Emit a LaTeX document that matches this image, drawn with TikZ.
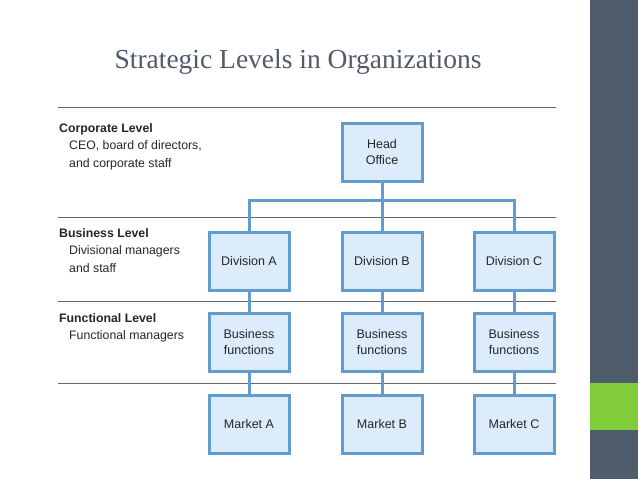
\documentclass[tikz,border=0pt]{standalone}
\usepackage{fontspec}
\setmainfont{Liberation Sans}
\newfontfamily\titlefont{Liberation Serif}
\definecolor{boxfill}{RGB}{221,236,250}
\definecolor{boxedge}{RGB}{96,156,206}
\definecolor{slate}{RGB}{79,92,108}
\definecolor{lime}{RGB}{128,204,58}
\definecolor{titlegray}{RGB}{80,90,105}
\tikzset{
  orgbox/.style={draw=boxedge, line width=3pt, fill=boxfill, minimum width=80pt, minimum height=58pt, align=center, font=\fontsize{12.5}{16}\selectfont, inner sep=2pt, text=black!85},
  link/.style={draw=boxedge, line width=3pt},
  rule/.style={draw=black!60, line width=0.8pt},
  lvl/.style={anchor=north west, align=left, font=\fontsize{12.3}{17.5}\selectfont, text=black!85, inner sep=0pt},
}
\begin{document}
\begin{tikzpicture}[x=1pt,y=-1pt]
\useasboundingbox (0,0) rectangle (638,479);
\fill[white] (0,0) rectangle (638,479);
\fill[slate] (590,0) rectangle (638,479);
\fill[lime] (590,383) rectangle (638,430);
\node[font=\titlefont\fontsize{27.5}{30}\selectfont, text=titlegray] (title) at (298,62) {Strategic Levels in Organizations};
\foreach \y in {107,217,301,383} \draw[rule] (58,\y) -- (556,\y);
\node[orgbox] (ho) at (382,152) {Head\\Office};
\node[orgbox] (da) at (249,261) {Division A};
\node[orgbox] (db) at (382,261) {Division B};
\node[orgbox] (dc) at (514,261) {Division C};
\node[orgbox] (ba) at (249,342) {Business\\functions};
\node[orgbox] (bb) at (382,342) {Business\\functions};
\node[orgbox] (bc) at (514,342) {Business\\functions};
\node[orgbox] (ma) at (249,424) {Market A};
\node[orgbox] (mb) at (382,424) {Market B};
\node[orgbox] (mc) at (514,424) {Market C};
\coordinate (j) at (382,200);
\draw[link] (ho.south) -- (db.north);
\draw[link] (da.north) |- (j) -| (dc.north);
\foreach \a/\b in {da/ba,db/bb,dc/bc,ba/ma,bb/mb,bc/mc} \draw[link] (\a.south) -- (\b.north);
\node[lvl] (l1) at (59,123) {\textbf{Corporate Level}\\\hspace*{10pt}CEO, board of directors,\\\hspace*{10pt}and corporate staff};
\node[lvl] (l2) at (59,228) {\textbf{Business Level}\\\hspace*{10pt}Divisional managers\\\hspace*{10pt}and staff};
\node[lvl] (l3) at (59,313) {\textbf{Functional Level}\\\hspace*{10pt}Functional managers};
\end{tikzpicture}
\end{document}
